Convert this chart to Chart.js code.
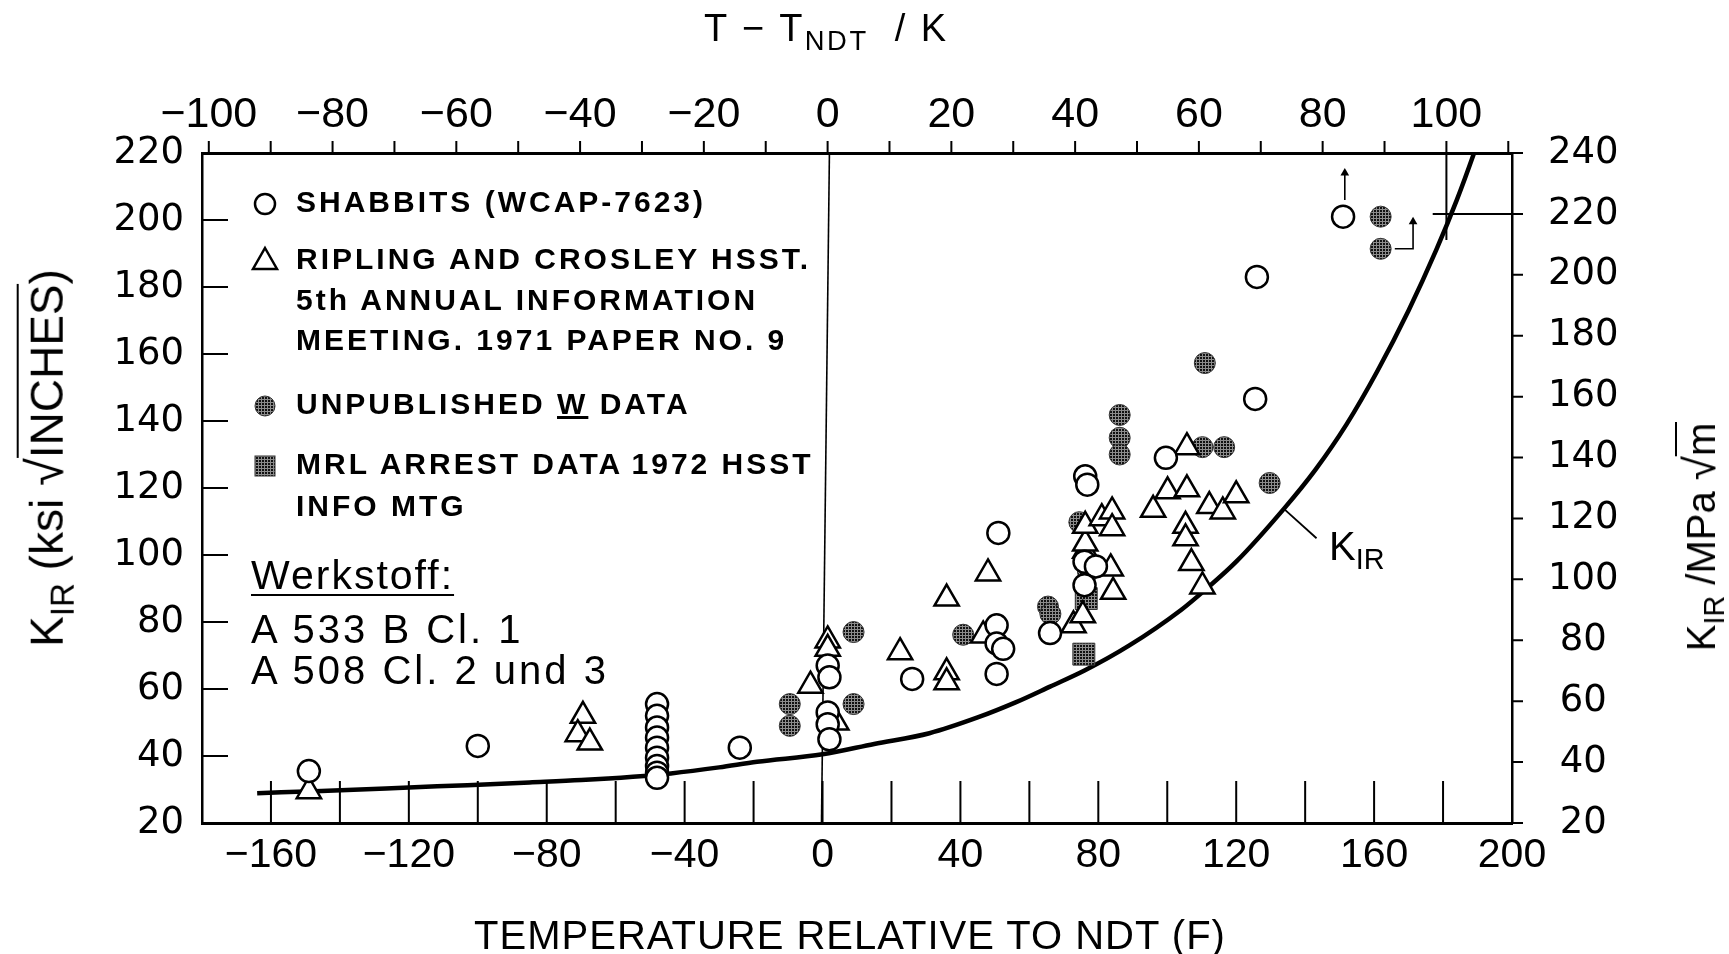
<!DOCTYPE html>
<html><head><meta charset="utf-8">
<script src="https://cdn.jsdelivr.net/npm/chart.js@4.4.1/dist/chart.umd.min.js"></script>
<style>
html,body{margin:0;padding:0;background:#fff;}
#wrap{position:relative;width:1729px;height:954px;overflow:hidden;background:#fff;}
canvas{position:absolute;left:0;top:0;}
.t{position:absolute;color:#000;white-space:nowrap;font-family:"Liberation Sans",Arial,sans-serif;line-height:1;}
.rot{transform:translate(-50%,-50%) rotate(-90deg);}
.lg{font-weight:bold;font-size:30px;letter-spacing:3px;left:296px;}
.sb{font-size:0.72em;position:relative;top:0.32em;}
.ov{border-top:2px solid #000;padding-top:2px;}
svg.mk{position:absolute;overflow:visible;}
</style></head>
<body><div id="wrap"><canvas id="c" width="1729" height="954"></canvas>
<svg width="0" height="0" style="position:absolute"><defs><pattern id="dots" width="3" height="3" patternUnits="userSpaceOnUse"><rect width="3" height="3" fill="#8c8c8c"/><rect width="2" height="2" fill="#111"/></pattern></defs></svg>
<div id="overlay"></div>
</div>
<script>
// ---------------- data ----------------
const X_TICKS   = [-180,-160,-140,-120,-100,-80,-60,-40,-20,0,20,40,60,80,100,120,140,160,180,200];
const X2_TICKS  = [-100,-90,-80,-70,-60,-50,-40,-30,-20,-10,0,10,20,30,40,50,60,70,80,90,100,110];
const Y_TICKS   = [20,40,60,80,100,120,140,160,180,200,220];
const Y2_TICKS  = [20,40,60,80,100,120,140,160,180,200,220,240];

const SHABBITS_F = [-149,-100,-48,-48,-48,-48,-48,-48,-48,-48,-48,-24,1.5,2,1.5,1.5,2,26,50.5,50.5,52.4,50.5,51,66,76.2,76.8,76,79.3,76,99.6,125.5,126,151];
const SHABBITS_K = [35.5,43,55.5,52,48.5,45.5,42.5,39.5,37,35,33.5,42.5,67,63.5,53,49.5,45,63,79,73.6,72,64.5,106.6,76.7,123.5,121,98,96.6,91,129,146.6,183,201];

const RIPLING_F = [-149,-69.5,-71,-67.5,1.5,1.5,-3.5,4,22.5,36,36,36,46.6,48,72.8,75.5,76.2,76.2,76.2,81,84,84,83.6,84.3,95.9,100.1,105.7,105.7,105.3,105.3,107,110.2,112.2,116.1,120];
const RIPLING_K = [29.5,52,46.5,44,74.5,72,61,50,71,87,65,62,76,94.5,79,82,101.3,103.4,108.7,111,113,108,96,89,113.5,119,119.6,132.2,108.7,105,97.6,90.6,114.6,113,117.8];

const UNPUB_F = [-9.5,-9.5,9,9,40.8,65.4,66.1,74.5,77,86.2,86.2,86.2,110.2,116.5,110.9,129.7,161.9,161.9];
const UNPUB_K = [55.5,49,77,55.5,76.2,84.6,82.4,109.8,95,141.8,135,130,132.2,132.2,157.3,121.5,201,191.4];

const MRL_F = [75.8,76.5];
const MRL_K = [70.4,87];

const CURVE_F = [-164,-150,-136,-120,-103,-85,-70,-55,-44,-30,-19,0,15,31,45,56,66,76,89,104,111,120,134,143,152,161,170,178,184,189,193];
const CURVE_K = [28.9,29.4,29.9,30.6,31.3,32.1,32.8,33.8,34.8,36.6,38.3,40.5,43.6,46.8,51.5,56,60.7,65.5,73,83.6,89.6,98,114,125.5,139,155,173,191,206,220,232];

const ZERO_LINE_F = [2,-0.3],      ZERO_LINE_K = [220,20];
const CROSS_V_K   = [100,100],     CROSS_V_Y  = [220,194];   // top axis (K) / left axis
const CROSS_H_F   = [177,200],     CROSS_H_M  = [220,220];   // bottom axis / right axis (MPa)
const ARROW1_F    = [151.5,151.5], ARROW1_K   = [206,214];
const ARROW2_F    = [166,171.3,171.3], ARROW2_K = [191.4,191.4,199.5];
const LEADER_F    = [133.6,143.3], LEADER_K   = [114,105];

const LEGEND = [
  {key:'shabbits', lines:['SHABBITS (WCAP-7623)']},
  {key:'ripling',  lines:['RIPLING AND CROSLEY HSST.','5th ANNUAL INFORMATION','MEETING. 1971 PAPER NO. 9']},
  {key:'unpub',    lines:['UNPUBLISHED <u>W</u> DATA']},
  {key:'mrl',      lines:['MRL ARREST DATA<span style="letter-spacing:0"> </span>1972 HSST','INFO MTG']}
];

// ---------------- helpers ----------------
const pts = (xs, ys) => xs.map((x,i)=>({x, y: ys[i]}));
const ctx = document.getElementById('c').getContext('2d');
function dotPattern(){
  const c=document.createElement('canvas'); c.width=3; c.height=3;
  const g=c.getContext('2d'); g.fillStyle='#8c8c8c'; g.fillRect(0,0,3,3);
  g.fillStyle='#111'; g.fillRect(0,0,2,2);
  return ctx.createPattern(c,'repeat');
}
const DOTS = dotPattern();

const tickPlugin = {
  id:'handTicks',
  afterDraw(chart){
    const c=chart.ctx, a=chart.chartArea, s=chart.scales;
    c.save(); c.strokeStyle='#000'; c.lineWidth=2; c.beginPath();
    s.x.ticks.forEach(t=>{const p=s.x.getPixelForValue(t.value); c.moveTo(p,a.bottom); c.lineTo(p,a.bottom-42);});
    s.x2.ticks.forEach(t=>{const p=s.x2.getPixelForValue(t.value); c.moveTo(p,a.top); c.lineTo(p,a.top-12);});
    s.y.ticks.forEach(t=>{const p=s.y.getPixelForValue(t.value); c.moveTo(a.left,p); c.lineTo(a.left+26,p);});
    s.y2.ticks.forEach(t=>{const p=s.y2.getPixelForValue(t.value); c.moveTo(a.right,p); c.lineTo(a.right+11,p);});
    c.stroke(); c.restore();
  }
};

const minus = v => (v<0 ? '\u2212'+Math.abs(v) : String(v));
const lineDs = (data, xA, yA, w, extra) => Object.assign({type:'line', data, xAxisID:xA, yAxisID:yA, borderColor:'#000', borderWidth:w, pointRadius:0, fill:false, order:20}, extra||{});

const datasets = [
  {label:'SHABBITS (WCAP-7623)', data:pts(SHABBITS_F,SHABBITS_K), pointStyle:'circle', pointRadius:11, backgroundColor:'#fff', borderColor:'#000', borderWidth:2.5, order:1},
  {label:'RIPLING AND CROSLEY HSST. 5th ANNUAL INFORMATION MEETING. 1971 PAPER NO. 9', data:pts(RIPLING_F,RIPLING_K), pointStyle:'triangle', pointRadius:14, backgroundColor:'#fff', borderColor:'#000', borderWidth:2.5, order:2},
  {label:'UNPUBLISHED W DATA', data:pts(UNPUB_F,UNPUB_K), pointStyle:'circle', pointRadius:10.5, backgroundColor:DOTS, borderColor:'#333', borderWidth:1, order:3},
  {label:'MRL ARREST DATA 1972 HSST INFO MTG', data:pts(MRL_F,MRL_K), pointStyle:'rect', pointRadius:15.5, backgroundColor:DOTS, borderColor:'#333', borderWidth:1, order:4},
  lineDs(pts(CURVE_F,CURVE_K),'x','y',4.5,{label:'KIR', cubicInterpolationMode:'monotone', order:10}),
  lineDs(pts(ZERO_LINE_F,ZERO_LINE_K),'x','y',1.6,{label:'zero'}),
  lineDs(pts(CROSS_V_K,CROSS_V_Y),'x2','y',2,{label:'crossV'}),
  lineDs(pts(CROSS_H_F,CROSS_H_M),'x','y2',2,{label:'crossH'}),
  lineDs(pts(ARROW1_F,ARROW1_K),'x','y',1.6,{label:'arrow1', pointRadius:[0,5], pointStyle:'triangle', pointBackgroundColor:'#000', pointBorderWidth:0}),
  lineDs(pts(ARROW2_F,ARROW2_K),'x','y',1.6,{label:'arrow2', pointRadius:[0,0,5], pointStyle:'triangle', pointBackgroundColor:'#000', pointBorderWidth:0}),
  lineDs(pts(LEADER_F,LEADER_K),'x','y',1.8,{label:'leader'})
];

const botFont = {family:'"Liberation Sans", Arial, sans-serif', size:41};
const topFont = {family:'"Liberation Sans", Arial, sans-serif', size:43};
const sideFont = {family:'"DejaVu Sans", sans-serif', size:37};

new Chart(ctx, {
  type:'scatter',
  data:{datasets},
  options:{
    responsive:false, animation:false, devicePixelRatio:1,
    layout:{padding:0},
    plugins:{legend:{display:false}, tooltip:{enabled:false}},
    scales:{
      x:{type:'linear', position:'bottom', min:-180, max:200,
         afterBuildTicks:s=>{s.ticks=X_TICKS.map(v=>({value:v}));},
         afterFit:s=>{s.height=131;},
         grid:{display:false, drawTicks:false}, border:{display:true, color:'#000', width:3},
         ticks:{color:'#000', font:botFont, padding:8, maxRotation:0, autoSkip:false,
                callback:v=>(v%40===0 && v>-180 ? minus(v) : '')}},
      x2:{type:'linear', position:'top', min:-101.1, max:110.6,
         afterBuildTicks:s=>{s.ticks=X2_TICKS.map(v=>({value:v}));},
         afterFit:s=>{s.height=153;},
         grid:{display:false, drawTicks:false}, border:{display:true, color:'#000', width:3},
         ticks:{color:'#000', font:topFont, padding:12, maxRotation:0, autoSkip:false,
                callback:v=>(v%20===0 ? minus(v) : '')}},
      y:{type:'linear', position:'left', min:20, max:220,
         afterBuildTicks:s=>{s.ticks=Y_TICKS.map(v=>({value:v}));},
         afterFit:s=>{s.width=202;},
         grid:{display:false, drawTicks:false}, border:{display:true, color:'#000', width:2.5},
         ticks:{color:'#000', font:sideFont, padding:18, autoSkip:false}},
      y2:{type:'linear', position:'right', min:20, max:240,
         afterBuildTicks:s=>{s.ticks=Y2_TICKS.map(v=>({value:v}));},
         afterFit:s=>{s.width=217;},
         grid:{display:false, drawTicks:false}, border:{display:true, color:'#000', width:2.5},
         ticks:{color:'#000', font:sideFont, padding:36, crossAlign:'center', autoSkip:false}}
    }
  },
  plugins:[tickPlugin]
});

// ---------------- text overlays ----------------
const ov = document.getElementById('overlay');
function add(html, style, cls){ const d=document.createElement('div'); d.className='t '+(cls||''); d.innerHTML=html; d.setAttribute('style',style); ov.appendChild(d); return d; }
function svgMark(kind, cx, cy){
  let inner='';
  if(kind==='shabbits') inner='<circle cx="0" cy="0" r="10" fill="#fff" stroke="#000" stroke-width="2.5"/>';
  if(kind==='ripling')  inner='<polygon points="0,-13 12,8 -12,8" fill="#fff" stroke="#000" stroke-width="2.5"/>';
  if(kind==='unpub')    inner='<circle cx="0" cy="0" r="10" fill="url(#dots)" stroke="#333" stroke-width="1"/>';
  if(kind==='mrl')      inner='<rect x="-10" y="-10" width="20" height="20" fill="url(#dots)" stroke="#333" stroke-width="1"/>';
  const s=document.createElementNS('http://www.w3.org/2000/svg','svg');
  s.setAttribute('class','mk'); s.setAttribute('width','1'); s.setAttribute('height','1');
  s.setAttribute('style',`left:${cx}px;top:${cy}px`); s.innerHTML=inner; ov.appendChild(s);
}
const ROW_Y = [[204],[261,302,342],[406],[466,508]];
LEGEND.forEach((e,i)=>{
  svgMark(e.key, 265, ROW_Y[i][0]);
  e.lines.forEach((ln,j)=> add(ln, `top:${ROW_Y[i][j]-17}px;`, 'lg'));
});
add('Werkstoff:', 'left:251px;top:555px;font-size:41px;letter-spacing:2px;text-decoration:underline;text-decoration-thickness:2px;text-underline-offset:5px;');
add('A 533 B Cl. 1', 'left:251px;top:609px;font-size:40px;letter-spacing:3px;');
add('A 508 Cl. 2 und 3', 'left:251px;top:650px;font-size:40px;letter-spacing:3px;');
add('K<span class="sb">IR</span>', 'left:1329px;top:526px;font-size:40px;');
add('T &minus; T<span class="sb">NDT</span>&nbsp;&nbsp;/ K', 'left:704px;top:9px;font-size:38px;letter-spacing:2.5px;');
add('TEMPERATURE RELATIVE TO NDT (F)', 'left:850px;top:915px;font-size:40px;letter-spacing:1px;transform:translateX(-50%);');
add('K<span class="sb">IR</span> (ksi <span style="font-size:1.1em">&radic;</span><span class="ov">INCHES</span>)', 'left:46px;top:458px;font-size:46px;', 'rot');
add('K<span class="sb">IR</span> /MPa <span style="font-size:1.1em">&radic;</span><span class="ov">m</span>', 'left:1700px;top:537px;font-size:40px;', 'rot');
</script>
</body></html>
